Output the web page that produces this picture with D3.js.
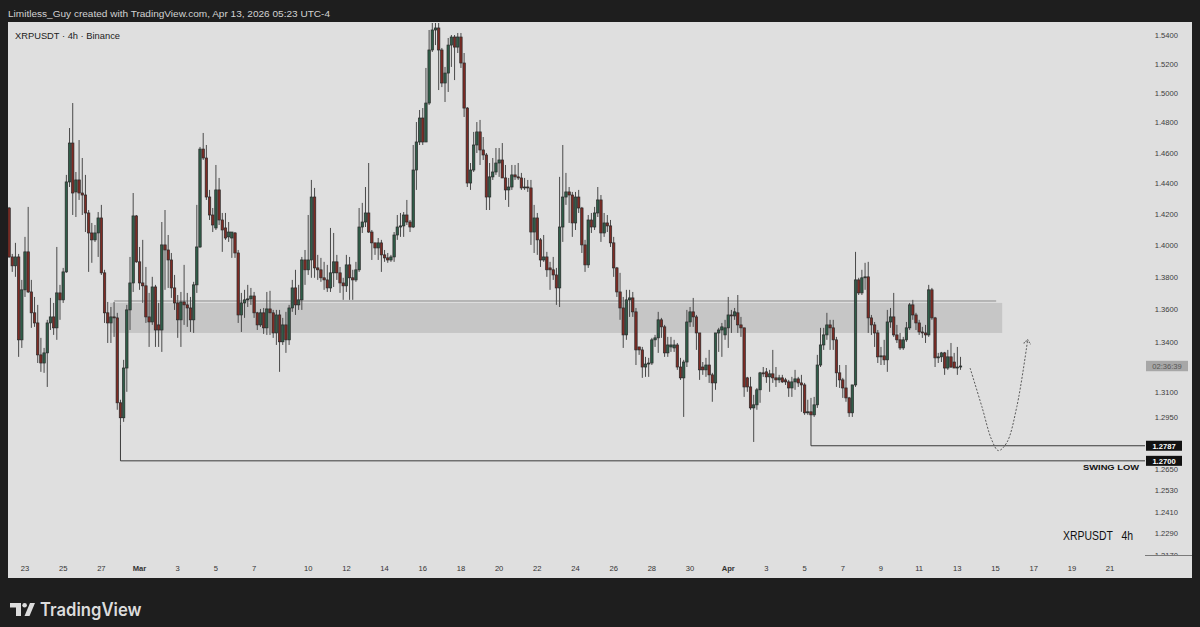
<!DOCTYPE html>
<html><head><meta charset="utf-8">
<script src="https://cdn.jsdelivr.net/npm/d3@7"></script>
<style>html,body{margin:0;padding:0;background:#1e1e1e;}svg{display:block;}</style>
</head><body><svg id="chart" width="1200" height="627"></svg>
<script>
// ---------------- DATA ----------------
const startTime = "2026-02-22T12:00:00Z"; // first 4h bar (UTC)
const openP = [1.4240,1.3928,1.3872,1.3928,1.3415,1.3722,1.3960,1.3709,1.3580,1.3518,
1.3324,1.3275,1.3336,1.3518,1.3555,1.3488,1.3703,1.3660,1.3834,1.4409,
1.4665,1.4344,1.4422,1.4337,1.4324,1.4208,1.4080,1.4036,1.4080,1.4176,
1.3828,1.3580,1.3518,1.3555,1.3549,1.3038,1.2950,1.3245,1.3598,1.3765,
1.4189,1.3897,1.3765,1.3747,1.3555,1.3524,1.3740,1.3506,1.3475,1.4004,
1.3972,1.3909,1.3734,1.3641,1.3537,1.3647,1.3629,1.3610,1.3537,1.3753,
1.3991,1.4625,1.4566,1.4311,1.4195,1.4112,1.4357,1.4163,1.4112,1.4055,
1.4048,1.4080,1.3953,1.3567,1.3641,1.3660,1.3666,1.3684,1.3580,1.3506,
1.3580,1.3488,1.3604,1.3580,1.3457,1.3567,1.3403,1.3506,1.3415,1.3610,
1.3734,1.3629,1.3660,1.3909,1.3847,1.3909,1.4311,1.3859,1.3847,1.3797,
1.3784,1.3734,1.3828,1.3897,1.3828,1.3765,1.3747,1.3878,1.3797,1.3784,
1.3847,1.4118,1.4150,1.4208,1.4086,1.4017,1.3985,1.4017,1.3941,1.3922,
1.3909,1.3928,1.4067,1.4118,1.4125,1.4195,1.4150,1.4118,1.4487,1.4672,
1.4832,1.4672,1.4933,1.5296,1.5435,1.5449,1.5296,1.5069,1.5137,1.5330,
1.5386,1.5316,1.5386,1.5206,1.4899,1.4402,1.4487,1.4652,1.4739,1.4619,
1.4586,1.4311,1.4442,1.4474,1.4533,1.4553,1.4435,1.4357,1.4376,1.4455,
1.4442,1.4435,1.4370,1.4376,1.4370,1.4086,1.4176,1.4036,1.3909,1.3928,
1.3859,1.3847,1.3815,1.3734,1.4118,1.4311,1.4344,1.4324,1.4144,1.4311,
1.4240,1.4004,1.3878,1.4163,1.4118,1.4208,1.4292,1.4080,1.4144,1.4125,
1.4017,1.3859,1.3709,1.3610,1.3445,1.3660,1.3672,1.3586,1.3372,1.3354,
1.3251,1.3269,1.3275,1.3415,1.3427,1.3537,1.3494,1.3336,1.3372,1.3366,
1.3384,1.3251,1.3186,1.3281,1.3524,1.3586,1.3555,1.3457,1.3251,1.3234,
1.3263,1.3204,1.3156,1.3457,1.3475,1.3445,1.3488,1.3567,1.3561,1.3580,
1.3506,1.3488,1.3186,1.3132,1.3008,1.3026,1.3115,1.3216,1.3222,1.3192,
1.3210,1.3186,1.3174,1.3186,1.3174,1.3162,1.3126,1.3162,1.3180,1.3156,
1.3144,1.2979,1.2985,1.2967,1.3026,1.3263,1.3384,1.3445,1.3506,1.3488,
1.3415,1.3216,1.3174,1.3126,1.3067,1.2979,1.3144,1.3784,1.3703,1.3797,
1.3803,1.3549,1.3506,1.3457,1.3312,1.3318,1.3294,1.3524,1.3555,1.3445,
1.3415,1.3366,1.3415,1.3488,1.3629,1.3567,1.3518,1.3463,1.3457,1.3445,
1.3722,1.3549,1.3306,1.3312,1.3336,1.3245,1.3312,1.3281,1.3245,1.3251];
const highP = [1.4247,1.3947,1.4017,1.3947,1.3784,1.4055,1.4247,1.3784,1.3678,1.3629,
1.3427,1.3366,1.3537,1.3672,1.3641,1.3991,1.3753,1.3859,1.4455,1.4765,
1.4933,1.4474,1.4685,1.4566,1.4455,1.4227,1.4144,1.4131,1.4214,1.4260,
1.3847,1.3647,1.3616,1.3647,1.3580,1.3056,1.3294,1.3629,1.3928,1.4337,
1.4195,1.3991,1.4036,1.3865,1.3703,1.3803,1.3753,1.3641,1.4150,1.4227,
1.4067,1.3953,1.3815,1.3690,1.3709,1.3878,1.3703,1.3678,1.3772,1.4260,
1.4639,1.4732,1.4652,1.4357,1.4240,1.4520,1.4435,1.4208,1.4208,1.4150,
1.4080,1.4086,1.3972,1.3703,1.3722,1.3753,1.3734,1.3709,1.3586,1.3604,
1.3610,1.3709,1.3716,1.3598,1.3598,1.3598,1.3549,1.3586,1.3629,1.3784,
1.3847,1.3753,1.3928,1.3972,1.4195,1.4422,1.4370,1.3941,1.3922,1.3897,
1.3878,1.4112,1.4080,1.3941,1.3865,1.3797,1.3941,1.3928,1.3847,1.3897,
1.4240,1.4273,1.4376,1.4533,1.4099,1.4017,1.4048,1.4036,1.3972,1.3953,
1.3941,1.4086,1.4195,1.4208,1.4214,1.4292,1.4163,1.4652,1.4805,1.4886,
1.4899,1.5172,1.5435,1.5484,1.5484,1.5484,1.5310,1.5179,1.5379,1.5400,
1.5400,1.5414,1.5414,1.5275,1.4906,1.4533,1.4739,1.4805,1.4819,1.4705,
1.4599,1.4533,1.4566,1.4632,1.4632,1.4665,1.4520,1.4435,1.4520,1.4520,
1.4533,1.4468,1.4435,1.4422,1.4422,1.4260,1.4208,1.4048,1.4067,1.3960,
1.3897,1.3928,1.3859,1.4442,1.4652,1.4468,1.4376,1.4344,1.4344,1.4357,
1.4247,1.4036,1.4195,1.4208,1.4247,1.4376,1.4324,1.4208,1.4195,1.4163,
1.4055,1.3865,1.3828,1.3678,1.3722,1.3722,1.3709,1.3610,1.3372,1.3372,
1.3312,1.3306,1.3427,1.3445,1.3586,1.3549,1.3506,1.3433,1.3433,1.3415,
1.3396,1.3306,1.3294,1.3598,1.3616,1.3672,1.3567,1.3457,1.3281,1.3306,
1.3354,1.3216,1.3457,1.3488,1.3518,1.3537,1.3678,1.3598,1.3610,1.3690,
1.3555,1.3488,1.3192,1.3192,1.3085,1.3126,1.3222,1.3251,1.3245,1.3234,
1.3354,1.3251,1.3204,1.3204,1.3186,1.3174,1.3192,1.3234,1.3192,1.3204,
1.3156,1.3056,1.3067,1.3073,1.3324,1.3488,1.3488,1.3580,1.3537,1.3537,
1.3433,1.3263,1.3186,1.3263,1.3073,1.3144,1.3960,1.3797,1.3847,1.3891,
1.3897,1.3567,1.3524,1.3475,1.3372,1.3415,1.3598,1.3610,1.3703,1.3506,
1.3457,1.3433,1.3524,1.3641,1.3660,1.3580,1.3537,1.3494,1.3506,1.3753,
1.3734,1.3555,1.3336,1.3342,1.3342,1.3354,1.3396,1.3336,1.3372,1.3312];
const lowP = [1.3922,1.3834,1.3803,1.3312,1.3366,1.3678,1.3703,1.3488,1.3494,1.3275,
1.3222,1.3216,1.3132,1.3475,1.3445,1.3415,1.3537,1.3641,1.3828,1.4376,
1.4195,1.4182,1.4292,1.4195,1.4086,1.3834,1.3891,1.4023,1.3928,1.3815,
1.3518,1.3396,1.3396,1.3433,1.2997,1.2908,1.2926,1.3103,1.3475,1.3709,
1.3891,1.3722,1.3641,1.3518,1.3372,1.3506,1.3372,1.3372,1.3342,1.3722,
1.3734,1.3672,1.3598,1.3427,1.3372,1.3506,1.3494,1.3463,1.3457,1.3703,
1.3985,1.4553,1.4292,1.4163,1.4086,1.4099,1.4131,1.3960,1.4036,1.4023,
1.3922,1.3922,1.3518,1.3463,1.3549,1.3616,1.3629,1.3549,1.3475,1.3494,
1.3451,1.3445,1.3445,1.3427,1.3384,1.3222,1.3384,1.3336,1.3384,1.3586,
1.3567,1.3598,1.3598,1.3753,1.3815,1.3797,1.3797,1.3784,1.3772,1.3722,
1.3709,1.3709,1.3740,1.3784,1.3703,1.3660,1.3709,1.3660,1.3660,1.3772,
1.3834,1.4080,1.4118,1.4080,1.3909,1.3941,1.3909,1.3834,1.3897,1.3891,
1.3897,1.3897,1.4036,1.4055,1.4055,1.4131,1.4086,1.4112,1.4357,1.4652,
1.4652,1.4685,1.4920,1.5282,1.5330,1.5021,1.5041,1.4940,1.5008,1.5179,
1.5089,1.5275,1.5172,1.4839,1.4376,1.4357,1.4474,1.4599,1.4520,1.4553,
1.4227,1.4227,1.4422,1.4455,1.4442,1.4435,1.4292,1.4247,1.4357,1.4422,
1.4422,1.4357,1.4357,1.4344,1.4004,1.3953,1.3941,1.3865,1.3897,1.3803,
1.3722,1.3784,1.3629,1.3616,1.4023,1.4260,1.4144,1.4055,1.4099,1.4208,
1.3953,1.3834,1.3859,1.4080,1.4099,1.4182,1.4023,1.4055,1.4086,1.3991,
1.3803,1.3678,1.3537,1.3366,1.3415,1.3555,1.3555,1.3263,1.3324,1.3186,
1.3192,1.3192,1.3263,1.3372,1.3336,1.3427,1.3312,1.3312,1.3342,1.3342,
1.3234,1.3174,1.2955,1.3251,1.3494,1.3494,1.3354,1.3174,1.3204,1.3192,
1.3156,1.3044,1.3115,1.3342,1.3312,1.3415,1.3366,1.3457,1.3537,1.3457,
1.3433,1.3073,1.3103,1.2997,1.2809,1.2997,1.3038,1.3192,1.3156,1.3103,
1.3156,1.3132,1.3156,1.3156,1.3144,1.3073,1.3073,1.3115,1.3132,1.2985,
1.2967,1.2967,1.2967,1.2955,1.3008,1.3251,1.3354,1.3415,1.3354,1.3354,
1.3132,1.3126,1.3067,1.3044,1.2955,1.2955,1.3132,1.3690,1.3690,1.3722,
1.3457,1.3445,1.3372,1.3275,1.3263,1.3263,1.3222,1.3488,1.3433,1.3396,
1.3354,1.3354,1.3403,1.3475,1.3537,1.3475,1.3445,1.3427,1.3396,1.3433,
1.3537,1.3251,1.3275,1.3281,1.3204,1.3234,1.3245,1.3245,1.3204,1.3234];
const closeP = [1.3928,1.3872,1.3928,1.3415,1.3722,1.3960,1.3709,1.3580,1.3518,1.3324,
1.3275,1.3336,1.3518,1.3555,1.3488,1.3703,1.3660,1.3834,1.4409,1.4665,
1.4337,1.4422,1.4337,1.4324,1.4208,1.4080,1.4036,1.4080,1.4176,1.3828,
1.3580,1.3518,1.3555,1.3549,1.3038,1.2950,1.3245,1.3598,1.3765,1.4189,
1.3897,1.3765,1.3747,1.3555,1.3524,1.3740,1.3475,1.3475,1.4004,1.3972,
1.3909,1.3734,1.3641,1.3537,1.3647,1.3629,1.3610,1.3537,1.3753,1.3991,
1.4625,1.4566,1.4311,1.4195,1.4131,1.4357,1.4163,1.4099,1.4048,1.4086,
1.4086,1.3953,1.3567,1.3641,1.3660,1.3666,1.3684,1.3580,1.3506,1.3580,
1.3488,1.3604,1.3580,1.3457,1.3567,1.3403,1.3506,1.3415,1.3610,1.3734,
1.3629,1.3660,1.3909,1.3847,1.3909,1.4311,1.3859,1.3847,1.3797,1.3784,
1.3734,1.3828,1.3897,1.3828,1.3765,1.3747,1.3878,1.3797,1.3784,1.3847,
1.4118,1.4150,1.4208,1.4086,1.4017,1.3985,1.4017,1.3941,1.3922,1.3909,
1.3928,1.4067,1.4118,1.4125,1.4195,1.4150,1.4118,1.4487,1.4672,1.4832,
1.4672,1.4933,1.5296,1.5435,1.5449,1.5296,1.5069,1.5137,1.5330,1.5386,
1.5316,1.5386,1.5206,1.4899,1.4402,1.4487,1.4652,1.4739,1.4619,1.4586,
1.4311,1.4442,1.4474,1.4533,1.4553,1.4435,1.4357,1.4376,1.4455,1.4442,
1.4435,1.4370,1.4376,1.4370,1.4086,1.4176,1.4036,1.3909,1.3928,1.3847,
1.3847,1.3815,1.3734,1.4118,1.4311,1.4344,1.4324,1.4144,1.4311,1.4240,
1.4004,1.3878,1.4163,1.4118,1.4208,1.4292,1.4080,1.4144,1.4125,1.4017,
1.3859,1.3709,1.3610,1.3445,1.3660,1.3672,1.3586,1.3354,1.3354,1.3251,
1.3269,1.3275,1.3415,1.3427,1.3537,1.3494,1.3336,1.3384,1.3384,1.3384,
1.3251,1.3186,1.3281,1.3524,1.3586,1.3555,1.3457,1.3234,1.3234,1.3263,
1.3204,1.3156,1.3457,1.3475,1.3494,1.3488,1.3567,1.3561,1.3586,1.3506,
1.3488,1.3132,1.3132,1.3008,1.3026,1.3115,1.3216,1.3210,1.3192,1.3210,
1.3186,1.3174,1.3186,1.3162,1.3162,1.3126,1.3162,1.3180,1.3156,1.3144,
1.2979,1.2985,1.2967,1.3026,1.3263,1.3384,1.3445,1.3506,1.3488,1.3415,
1.3216,1.3174,1.3126,1.3067,1.2979,1.3144,1.3784,1.3703,1.3797,1.3803,
1.3549,1.3506,1.3457,1.3312,1.3318,1.3294,1.3524,1.3555,1.3445,1.3415,
1.3366,1.3415,1.3488,1.3629,1.3567,1.3518,1.3463,1.3457,1.3445,1.3722,
1.3549,1.3306,1.3312,1.3336,1.3245,1.3312,1.3251,1.3245,1.3251,1.3257];

const xTickDates = ["2026-02-23","2026-02-25","2026-02-27","2026-03-01","2026-03-03","2026-03-05","2026-03-07",
  "2026-03-10","2026-03-12","2026-03-14","2026-03-16","2026-03-18","2026-03-20","2026-03-22","2026-03-24",
  "2026-03-26","2026-03-28","2026-03-30","2026-04-01","2026-04-03","2026-04-05","2026-04-07","2026-04-09",
  "2026-04-11","2026-04-13","2026-04-15","2026-04-17","2026-04-19","2026-04-21"];
const xTickLabels = ["23","25","27","Mar","3","5","7","10","12","14","16","18","20","22","24",
  "26","28","30","Apr","3","5","7","9","11","13","15","17","19","21"];
const yTicks = [1.54,1.52,1.50,1.48,1.46,1.44,1.42,1.40,1.38,1.36,1.34,1.31,1.295,1.265,1.253,1.241,1.229,1.217];

const zoneTop = 1.3641, zoneBottom = 1.3457, zoneLine = 1.3653;
const zoneFromBar = 31.7, zoneToBar = 312.1, zoneLineFromBar = 33, zoneLineToBar = 310.2;
const levelPrices = [1.2787, 1.2700];
const levelBars = [252, 35];
const projBars = [302, 305.7, 308.8, 310.9, 313.5, 316.7, 320.1];
const projPrices = [1.3245, 1.3016, 1.2821, 1.2759, 1.2804, 1.3016, 1.3415];
const countdown = "02:36:39";

// ---------------- CHART ----------------
const svg = d3.select("#chart");
const FONT = "'Liberation Sans', Arial, sans-serif";
const P = {left: 8, right: 1140, top: 23, bottom: 555, panelR: 1192, panelB: 578};
const N = closeP.length;
const t0 = Date.parse(startTime);
const H4 = 4 * 3600e3;

const x = d3.scaleLinear().domain([-0.34, 355.4]).range([P.left, P.right]);
const y = d3.scaleLog().domain([1.54, 1.217]).range([35, 555]);

// header
svg.append("rect").attr("x",0).attr("y",0).attr("width",1200).attr("height",627).attr("fill","#1e1e1e");
svg.append("text").attr("x",8).attr("y",17).attr("fill","#d2d2d2").attr("font-family",FONT)
  .attr("font-size",9.6).attr("textLength",322).attr("lengthAdjust","spacingAndGlyphs")
  .text("Limitless_Guy created with TradingView.com, Apr 13, 2026 05:23 UTC-4");

// panel
svg.append("rect").attr("x",P.left).attr("y",22).attr("width",P.panelR-P.left).attr("height",P.panelB-22).attr("fill","#dfdfdf");

const defs = svg.append("defs");
defs.append("clipPath").attr("id","plotclip").append("rect")
  .attr("x",P.left).attr("y",P.top).attr("width",P.right-P.left).attr("height",P.bottom-P.top);
defs.append("clipPath").attr("id","axisclip").append("rect")
  .attr("x",P.right).attr("y",P.top).attr("width",P.panelR-P.right).attr("height",P.bottom-P.top);

const plot = svg.append("g").attr("clip-path","url(#plotclip)");

// zone
plot.append("rect").attr("x",x(zoneFromBar)).attr("width",x(zoneToBar)-x(zoneFromBar))
  .attr("y",y(zoneTop)).attr("height",y(zoneBottom)-y(zoneTop)).attr("fill","#c6c6c6");
plot.append("line").attr("x1",x(zoneLineFromBar)).attr("x2",x(zoneLineToBar))
  .attr("y1",y(zoneLine)).attr("y2",y(zoneLine)).attr("stroke","#8c8c8c").attr("stroke-width",1);

// candles
const idx = d3.range(N);
plot.append("g").selectAll("line").data(idx).join("line")
  .attr("x1",i=>x(i)).attr("x2",i=>x(i)).attr("y1",i=>y(highP[i])).attr("y2",i=>y(lowP[i]))
  .attr("stroke","#4a4a4a").attr("stroke-width",1);
plot.append("g").selectAll("rect").data(idx).join("rect")
  .attr("x",i=>x(i)-1.2).attr("width",2.4)
  .attr("y",i=>y(Math.max(openP[i],closeP[i])))
  .attr("height",i=>Math.max(0.8, Math.abs(y(openP[i])-y(closeP[i]))))
  .attr("fill",i=>closeP[i]>=openP[i] ? "#2f5d48" : "#7e2b24")
  .attr("stroke","#2a2a2a").attr("stroke-width",0.7);

// level lines
const levelLine = d3.line();
levelPrices.forEach((p,k)=>{
  const b = levelBars[k];
  svg.append("path").attr("d", levelLine([[x(b), y(lowP[b])],[x(b), y(p)],[1145, y(p)]]))
    .attr("fill","none").attr("stroke","#3a3a3a").attr("stroke-width",1);
});

// projection path
const marker = defs.append("marker").attr("id","arr").attr("viewBox","-6 -6 12 12")
  .attr("markerWidth",12).attr("markerHeight",12).attr("orient","auto").attr("markerUnits","userSpaceOnUse");
marker.append("path").attr("d","M-4,-3.5 L0,0 L-4,3.5").attr("fill","none").attr("stroke","#555").attr("stroke-width",1)
  .attr("stroke-dasharray","1.5,1");
const projLine = d3.line().x(d=>x(d[0])).y(d=>y(d[1])).curve(d3.curveCatmullRom.alpha(0.5));
svg.append("path").attr("d", projLine(projBars.map((b,k)=>[b, projPrices[k]])))
  .attr("fill","none").attr("stroke","#5a5a5a").attr("stroke-width",1).attr("stroke-dasharray","2,1.6")
  .attr("marker-end","url(#arr)");

// y axis labels
const yAxisG = svg.append("g").attr("clip-path","url(#axisclip)");
yAxisG.selectAll("text").data(yTicks).join("text")
  .attr("x",1178).attr("y",d=>y(d)+2.7).attr("text-anchor","end")
  .attr("font-family",FONT).attr("font-size",7.6).attr("fill","#3c3c3c")
  .text(d=>d.toFixed(4));
svg.append("line").attr("x1",1145).attr("x2",P.panelR).attr("y1",P.bottom+0.5).attr("y2",P.bottom+0.5)
  .attr("stroke","#7a7a7a").attr("stroke-width",1);

// level labels
levelPrices.forEach(p=>{
  svg.append("rect").attr("x",1146).attr("y",y(p)-5).attr("width",36).attr("height",10).attr("fill","#111");
  svg.append("text").attr("x",1164).attr("y",y(p)+2.8).attr("text-anchor","middle")
    .attr("font-family",FONT).attr("font-size",7.6).attr("font-weight","bold").attr("fill","#fff").text(p.toFixed(4));
});
// countdown
const lastC = closeP[N-1];
svg.append("rect").attr("x",1146).attr("y",y(lastC)-5.2).attr("width",42).attr("height",10.4).attr("fill","#a7a7a7");
svg.append("text").attr("x",1167).attr("y",y(lastC)+2.7).attr("text-anchor","middle")
  .attr("font-family",FONT).attr("font-size",7.6).attr("fill","#555").text(countdown);

// swing low text
svg.append("text").attr("x",1139).attr("y",y(1.27)+9.5).attr("text-anchor","end")
  .attr("font-family",FONT).attr("font-size",8).attr("font-weight","bold").attr("fill","#111")
  .attr("textLength",56).attr("lengthAdjust","spacingAndGlyphs").text("SWING LOW");

// x axis labels
function barOfDate(s){
  const [Y,M,D] = s.split("-").map(Number);
  const off = (Date.UTC(Y,M-1,D) < Date.UTC(2026,2,8)) ? 5 : 4;
  const t = Date.UTC(Y,M-1,D) + off*3600e3;
  return Math.ceil((t - t0)/H4);
}
svg.append("g").selectAll("text").data(xTickDates).join("text")
  .attr("x",d=>x(barOfDate(d))).attr("y",571).attr("text-anchor","middle")
  .attr("font-family",FONT).attr("font-size",7.6).attr("fill","#333")
  .attr("font-weight",(d,k)=>isNaN(+xTickLabels[k])?"bold":"normal")
  .text((d,k)=>xTickLabels[k]);

// symbol title
svg.append("text").attr("x",15).attr("y",38.5).attr("font-family",FONT).attr("font-size",9.6).attr("fill","#222")
  .attr("textLength",105).attr("lengthAdjust","spacingAndGlyphs").text("XRPUSDT · 4h · Binance");
// watermark (single text element)
svg.append("text").attr("x",1063).attr("y",540).attr("font-family",FONT).attr("font-size",12.5).attr("fill","#111")
  .attr("xml:space","preserve").style("white-space","pre")
  .attr("textLength",70).attr("lengthAdjust","spacingAndGlyphs").text("XRPUSDT   4h");

// TradingView logo
const logo = svg.append("g").attr("fill","#dcdcdc");
logo.append("path").attr("d","M10,603 H21 V616 H16 V607.5 H10 Z");
logo.append("circle").attr("cx",24.6).attr("cy",605.3).attr("r",2.3);
logo.append("path").attr("d","M30,603 H35 L29.5,616 H24.5 Z");
svg.append("text").attr("x",40).attr("y",615.8).attr("font-family","Inter, 'Open Sans', sans-serif")
  .attr("font-size",18).attr("font-weight",600).attr("fill","#dcdcdc")
  .attr("textLength",101.5).attr("lengthAdjust","spacingAndGlyphs").text("TradingView");
</script></body></html>
